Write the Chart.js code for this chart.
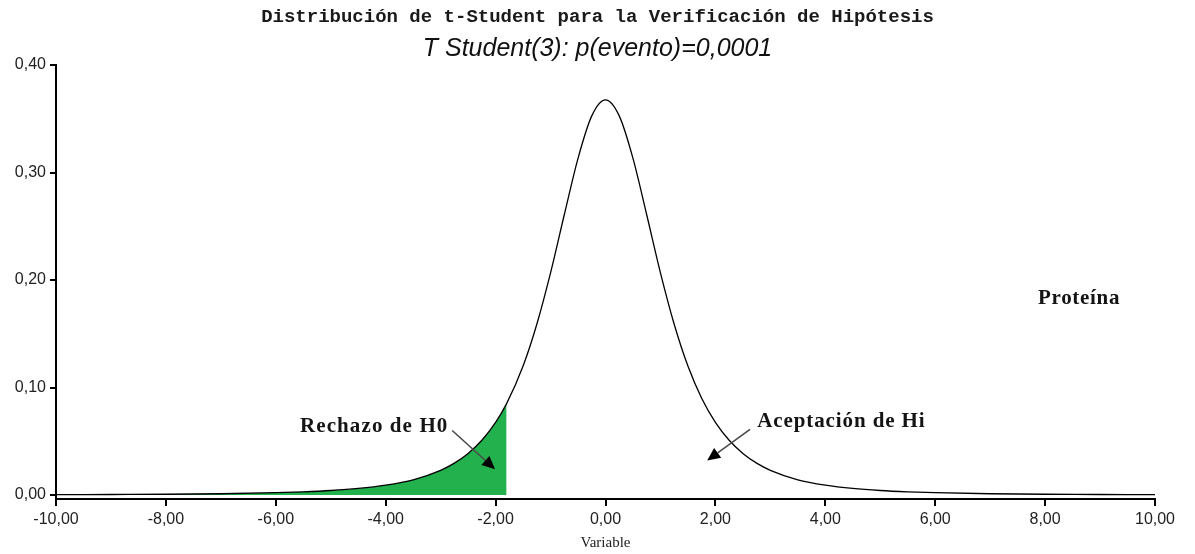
<!DOCTYPE html>
<html>
<head>
<meta charset="utf-8">
<script src="https://cdn.jsdelivr.net/npm/chart.js@4.4.1/dist/chart.umd.min.js"></script>
<style>
  html, body { margin: 0; padding: 0; background: #ffffff; }
  #wrap { width: 1195px; height: 554px; }
</style>
</head>
<body>
<div id="wrap"><canvas id="c" width="1195" height="554"></canvas></div>
<script>
// ---- Data ----
const tValues = [-10, -9, -8, -7, -6, -5.5, -5, -4.5, -4, -3.5, -3, -2.75, -2.5, -2.25, -2, -1.8,
  -1.5, -1.25, -1, -0.75, -0.5, -0.25, 0, 0.25, 0.5, 0.75, 1, 1.25, 1.5, 1.75,
  2, 2.25, 2.5, 2.75, 3, 3.5, 4, 4.5, 5, 5.5, 6, 7, 8, 9, 10];
const density = [0.0003, 0.0005, 0.0007, 0.0012, 0.0022, 0.0030, 0.0042, 0.0061, 0.0092, 0.0142, 0.0230, 0.0297, 0.0387, 0.0509, 0.0675, 0.0850,
  0.1200, 0.1589, 0.2067, 0.2607, 0.3132, 0.3527, 0.3676, 0.3527, 0.3132, 0.2607, 0.2067, 0.1589, 0.1200, 0.0900,
  0.0675, 0.0509, 0.0387, 0.0297, 0.0230, 0.0142, 0.0092, 0.0061, 0.0042, 0.0030, 0.0022, 0.0012, 0.0007, 0.0005, 0.0003];
const rejectLimit = -1.8;
const xTicks = [-10, -8, -6, -4, -2, 0, 2, 4, 6, 8, 10];
const yTicks = [0, 0.1, 0.2, 0.3, 0.4];
const titleText = 'Distribución de t-Student para la Verificación de Hipótesis';
const subtitleText = 'T Student(3): p(evento)=0,0001';
const xAxisTitle = 'Variable';
const labelReject = 'Rechazo de H0';
const labelAccept = 'Aceptación de Hi';
const labelGroup = 'Proteína';

// ---- Build datasets ----
const curvePoints = tValues.map((t, i) => ({ x: t, y: density[i] }));
const rejectPoints = curvePoints.filter(p => p.x <= rejectLimit);

const fmt = v => Number(v).toFixed(2).replace('.', ',');

// annotation placement (data coordinates)
const notes = [
  { text: labelReject, x: -5.56, y: 0.064, spacing: '1.1px', arrow: [-2.79, 0.060, -2.01, 0.024] },
  { text: labelAccept, x: 2.76, y: 0.068, spacing: '0.9px', arrow: [2.63, 0.061, 1.85, 0.032] },
  { text: labelGroup, x: 7.87, y: 0.183, spacing: '0.7px', arrow: null }
];

const annotationPlugin = {
  id: 'notes',
  afterDatasetsDraw(chart) {
    const ctx = chart.ctx, xs = chart.scales.x, ys = chart.scales.y;
    ctx.save();
    notes.forEach(n => {
      ctx.font = 'bold 21px "Liberation Serif", "Times New Roman", serif';
      try { ctx.letterSpacing = n.spacing; } catch (e) {}
      ctx.fillStyle = '#141414';
      ctx.textAlign = 'left';
      ctx.textBaseline = 'middle';
      ctx.fillText(n.text, xs.getPixelForValue(n.x), ys.getPixelForValue(n.y));
      if (n.arrow) {
        const x1 = xs.getPixelForValue(n.arrow[0]), y1 = ys.getPixelForValue(n.arrow[1]);
        const x2 = xs.getPixelForValue(n.arrow[2]), y2 = ys.getPixelForValue(n.arrow[3]);
        const ang = Math.atan2(y2 - y1, x2 - x1);
        const hl = 13, hw = 6;
        const bx = x2 - hl * Math.cos(ang), by = y2 - hl * Math.sin(ang);
        ctx.strokeStyle = '#4a4a4a';
        ctx.lineWidth = 1.6;
        ctx.beginPath();
        ctx.moveTo(x1, y1);
        ctx.lineTo(bx, by);
        ctx.stroke();
        ctx.fillStyle = '#000';
        ctx.beginPath();
        ctx.moveTo(x2, y2);
        ctx.lineTo(bx + hw * Math.sin(ang), by - hw * Math.cos(ang));
        ctx.lineTo(bx - hw * Math.sin(ang), by + hw * Math.cos(ang));
        ctx.closePath();
        ctx.fill();
      }
    });
    ctx.restore();
  }
};

new Chart(document.getElementById('c'), {
  type: 'scatter',
  data: {
    datasets: [
      {
        data: curvePoints,
        showLine: true,
        borderColor: '#000000',
        borderWidth: 1.3,
        pointRadius: 0,
        cubicInterpolationMode: 'monotone',
        fill: false
      },
      {
        data: rejectPoints,
        showLine: true,
        borderWidth: 0,
        borderColor: 'rgba(0,0,0,0)',
        backgroundColor: '#22b14c',
        pointRadius: 0,
        cubicInterpolationMode: 'monotone',
        fill: 'origin'
      }
    ]
  },
  options: {
    responsive: false,
    animation: false,
    devicePixelRatio: 1,
    layout: { padding: { left: 0, right: 0, top: 0, bottom: 0 } },
    plugins: {
      legend: { display: false },
      tooltip: { enabled: false },
      title: {
        display: true,
        text: titleText,
        color: '#1a1a1a',
        font: { family: '"Liberation Mono", "Courier New", monospace', size: 19, weight: 'bold' },
        padding: { top: 6, bottom: 4 }
      },
      subtitle: {
        display: true,
        text: subtitleText,
        color: '#111',
        font: { family: '"Liberation Sans", Arial, sans-serif', size: 25, style: 'italic' },
        padding: { top: 1, bottom: 1.2 }
      }
    },
    scales: {
      x: {
        type: 'linear',
        min: -10,
        max: 10,
        afterBuildTicks: s => { s.ticks = xTicks.map(v => ({ value: v })); },
        afterFit: s => { s.height = 55; },
        ticks: {
          callback: v => fmt(v),
          color: '#222',
          font: { family: '"Liberation Sans", Arial, sans-serif', size: 16 },
          padding: 4,
          maxRotation: 0,
          autoSkip: false
        },
        grid: { display: true, drawOnChartArea: false, drawTicks: true, tickLength: 7, color: '#000', lineWidth: 2 },
        border: { display: true, color: '#000', width: 2 },
        title: {
          display: true,
          text: xAxisTitle,
          color: '#222',
          font: { family: '"Liberation Serif", "Times New Roman", serif', size: 15 },
          padding: { top: 0, bottom: 2 }
        }
      },
      y: {
        type: 'linear',
        min: -0.0037,
        max: 0.4,
        afterBuildTicks: s => { s.ticks = yTicks.map(v => ({ value: v })); },
        afterFit: s => { s.width = 56; },
        ticks: {
          callback: v => fmt(v),
          color: '#222',
          font: { family: '"Liberation Sans", Arial, sans-serif', size: 16 },
          padding: 4
        },
        grid: { display: true, drawOnChartArea: false, drawTicks: true, tickLength: 6, color: '#000', lineWidth: 2 },
        border: { display: true, color: '#000', width: 2 }
      },
      rightSpace: {
        type: 'linear',
        position: 'right',
        display: true,
        min: 0,
        max: 1,
        afterFit: s => { s.width = 40; },
        ticks: { display: false },
        grid: { display: false, drawTicks: false },
        border: { display: false }
      }
    }
  },
  plugins: [annotationPlugin]
});
</script>
</body>
</html>
